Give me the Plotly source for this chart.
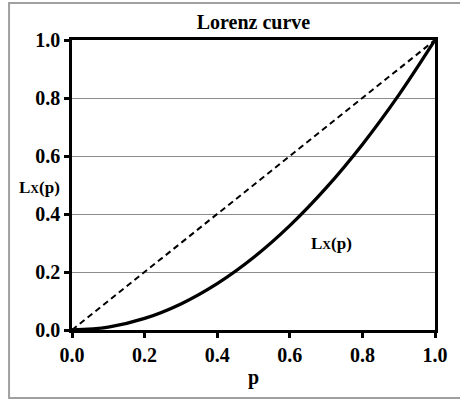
import plotly.graph_objects as go

p_vals = [0.0, 0.1, 0.2, 0.3, 0.4, 0.5, 0.6, 0.7, 0.8, 0.9, 1.0]
lorenz_vals = [0.0, 0.01, 0.04, 0.09, 0.16, 0.25, 0.36, 0.49, 0.64, 0.81, 1.0]
equality_x = [0.0, 1.0]
equality_y = [0.0, 1.0]
tick_vals = [0.0, 0.2, 0.4, 0.6, 0.8, 1.0]
tick_text = ["0.0", "0.2", "0.4", "0.6", "0.8", "1.0"]

FONT = "Liberation Serif, Times New Roman, serif"
LX = "<b>L<span style='font-size:12px'>X</span>(p)</b>"

fig = go.Figure()
fig.add_trace(go.Scatter(x=equality_x, y=equality_y, mode="lines",
                         line=dict(color="black", width=2, dash="6px,4px"),
                         showlegend=False, hoverinfo="skip"))
fig.add_trace(go.Scatter(x=p_vals, y=lorenz_vals, mode="lines",
                         line=dict(color="black", width=3.3, shape="spline"),
                         showlegend=False, hoverinfo="skip"))

axis_common = dict(range=[0, 1], tickvals=tick_vals, ticktext=tick_text,
                   showline=True, linecolor="black", linewidth=2.5, mirror=True,
                   ticks="outside", ticklen=5, tickwidth=2.5, tickcolor="black",
                   tickfont=dict(family=FONT, size=20, color="black", weight="bold"),
                   zeroline=False, fixedrange=True)

fig.update_xaxes(**axis_common, showgrid=False)
fig.update_yaxes(**axis_common, showgrid=True, gridcolor="#8c8c8c", gridwidth=1.2)

fig.add_annotation(x=-0.089, y=0.49, xref="paper", yref="paper", text=LX, showarrow=False,
                   font=dict(family=FONT, size=17, color="black"), xanchor="center", yanchor="middle")
fig.add_annotation(x=0.715, y=0.30, xref="x", yref="y", text=LX, showarrow=False,
                   font=dict(family=FONT, size=17, color="black"), xanchor="center", yanchor="middle")
fig.add_annotation(x=0.5, y=-0.165, xref="paper", yref="paper", text="<b>p</b>", showarrow=False,
                   font=dict(family=FONT, size=20, color="black"), xanchor="center", yanchor="middle")

fig.add_shape(type="rect", xref="paper", yref="paper", x0=-0.1734, x1=1.1, y0=-0.2345, y1=1.1276,
              line=dict(color="#a0a0a0", width=2), fillcolor="rgba(0,0,0,0)", layer="below")

fig.update_layout(
    width=460, height=400,
    margin=dict(l=72, r=19, t=40, b=70),
    paper_bgcolor="white", plot_bgcolor="white",
    title=dict(text="<b>Lorenz curve</b>", x=0.5, xref="paper", y=1 - 22 / 400, yanchor="middle",
               font=dict(family=FONT, size=20, color="black")),
)

fig.write_html("out.html", config={"displayModeBar": False},
               post_script="document.body.style.margin='0';")
